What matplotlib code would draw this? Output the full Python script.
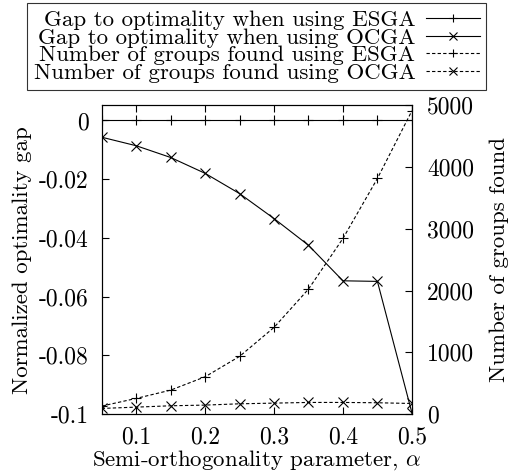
import matplotlib
matplotlib.use("Agg")
import matplotlib.pyplot as plt
from matplotlib.ticker import FixedLocator, FixedFormatter

plt.rcParams["font.family"] = ["cmr10", "DejaVu Serif"]
plt.rcParams["mathtext.fontset"] = "cm"
plt.rcParams["axes.unicode_minus"] = False

alpha = [0.05, 0.10, 0.15, 0.20, 0.25, 0.30, 0.35, 0.40, 0.45, 0.50]
gap_esga = [0, 0, 0, 0, 0, 0, 0, 0, 0, 0]
gap_ocga = [-0.0057, -0.0086, -0.0126, -0.0180, -0.0249, -0.0334, -0.0425, -0.0546, -0.0548, -0.0995]
groups_esga = [130, 254, 388, 604, 934, 1403, 2023, 2843, 3814, 4908]
groups_ocga = [92, 113, 135, 146, 167, 178, 189, 189, 184, 172]

left_ticks = [0, -0.02, -0.04, -0.06, -0.08, -0.1]
left_labels = ["0", "-0.02", "-0.04", "-0.06", "-0.08", "-0.1"]
right_ticks = [0, 1000, 2000, 3000, 4000, 5000]
x_ticks = [0.1, 0.2, 0.3, 0.4, 0.5]

fig = plt.figure(figsize=(5.11, 4.76), dpi=100)
ax = fig.add_axes([0.199, 0.130, 0.607, 0.649])
ax2 = ax.twinx()

fs_tick = 17
fs_label = 16.5
line_kw = dict(color="black", lw=0.8, markersize=7, markeredgewidth=0.8)
dash = (0, (3, 2))

h1, = ax.plot(alpha, gap_esga, marker="+", ls="-", **line_kw)
h2, = ax.plot(alpha, gap_ocga, marker="x", ls="-", **line_kw)
h3, = ax2.plot(alpha, groups_esga, marker="+", ls=dash, **line_kw)
h4, = ax2.plot(alpha, groups_ocga, marker="x", ls=dash, **line_kw)

for a in (ax, ax2):
    for s in a.spines.values():
        s.set_linewidth(0.8)
    a.set_xlim(0.05, 0.5)

ax.set_ylim(-0.1, 0.0052)
ax2.set_ylim(0, 5000)

ax.xaxis.set_major_locator(FixedLocator(x_ticks))
ax.set_xticklabels([f"{v:.1f}" for v in x_ticks])
ax.yaxis.set_major_locator(FixedLocator(left_ticks))
ax.yaxis.set_major_formatter(FixedFormatter(left_labels))
ax2.yaxis.set_major_locator(FixedLocator(right_ticks))

ax.tick_params(axis="x", direction="in", top=True, length=5, width=0.8, pad=9, labelsize=fs_tick)
ax.tick_params(axis="y", direction="in", right=False, length=5, width=0.8, pad=9.5, labelsize=fs_tick)
ax2.tick_params(axis="y", direction="in", length=5, width=0.8, pad=11, labelsize=fs_tick)

ax.set_xlabel(r"Semi-orthogonality parameter, $\alpha$", fontsize=fs_label, labelpad=0)
ax.set_ylabel("Normalized optimality gap", fontsize=fs_label, labelpad=5)
ax2.set_ylabel("Number of groups found", fontsize=fs_label, labelpad=11)

labels = [
    "Gap to optimality when using ESGA",
    "Gap to optimality when using OCGA",
    "Number of groups found using ESGA",
    "Number of groups found using OCGA",
]
leg = fig.legend([h1, h2, h3, h4], labels, loc="upper center", bbox_to_anchor=(0.502, 0.994),
                 markerfirst=False, fontsize=fs_label, frameon=True, fancybox=False,
                 edgecolor="black", handlelength=2.35, labelspacing=-0.1,
                 borderpad=0.3, handletextpad=0.45, borderaxespad=0)
leg.get_frame().set_linewidth(0.8)
for lh in leg.legend_handles:
    lh.set_markersize(5.5)

fig.savefig("out.png", dpi=100)
